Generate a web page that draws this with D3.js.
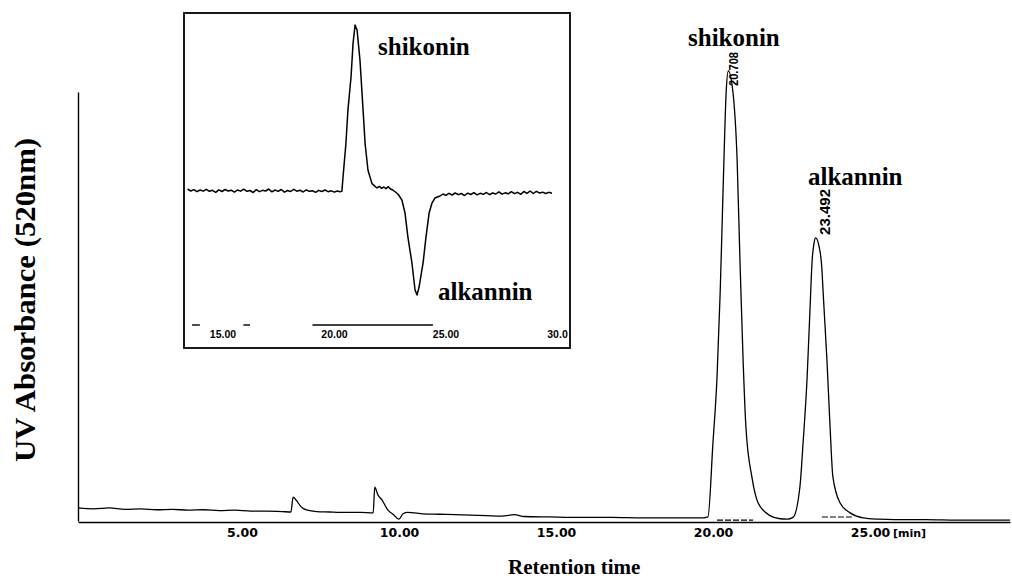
<!DOCTYPE html>
<html><head><meta charset="utf-8">
<script src="https://cdn.jsdelivr.net/npm/d3@7"></script>
<style>body{margin:0;background:#fff}svg{display:block}</style>
</head><body><svg id="c" width="1012" height="580"></svg>
<script>
// ---------- data ----------
const mainTime = [0.0,0.5,1.0,1.5,2.0,2.5,3.0,3.5,4.0,4.5,5.0,5.5,6.0,6.5,6.78,6.85,6.95,7.1,7.3,7.6,8.0,8.5,9.0,9.4,9.45,9.55,9.68,9.87,10.05,10.22,10.35,10.5,11.0,11.5,12.0,12.5,13.0,13.5,13.9,14.2,15.0,16.0,17.0,18.0,19.0,19.9,20.06,20.22,20.35,20.45,20.51,20.57,20.64,20.71,20.86,20.99,21.08,21.18,21.27,21.46,21.66,22.04,22.36,22.58,22.77,22.99,23.09,23.22,23.31,23.38,23.44,23.49,23.6,23.69,23.73,23.85,23.95,24.04,24.27,24.59,25.0,25.5,26.0,27.0,28.0,29.0,29.68];
const mainSignal = [2.9,2.7,2.9,2.6,2.7,2.5,2.6,2.4,2.5,2.3,2.4,2.2,2.2,2.1,2.0,5.3,4.6,3.2,2.4,2.1,2.0,1.9,1.9,1.8,7.5,5.8,4.7,2.4,1.4,0.4,1.6,1.9,1.6,1.5,1.4,1.3,1.2,1.1,1.4,1.0,0.9,0.8,0.8,0.7,0.7,0.7,0.9,17.3,32,50.7,65.3,80.2,95.1,100,95.1,80.2,58,35.8,20.9,9.8,4.0,1.2,0.5,0.4,0.8,7.6,17.3,32,46.9,58,61.8,62.9,61,56,50.7,35.8,20.9,9.8,4.0,1.8,0.7,0.4,0.3,0.3,0.2,0.2,0.2];
const xTicks = [5,10,15,20,25];
const xTickLabels = ["5.00","10.00","15.00","20.00","25.00"];
const peakTimes = [20.708, 23.492];
const peakHeights = [100, 62.9];
const peakLabels = ["20.708", "23.492"];
const peakNames = ["shikonin", "alkannin"];
const integStart = [20.35, 23.69];
const integEnd = [21.5, 24.68];
const integLevel = [0.2, 0.9];

const insetTime = [13.30,13.44,13.58,13.72,13.86,14.00,14.14,14.28,14.42,14.56,14.70,14.84,14.98,15.12,15.26,15.40,15.54,15.68,15.82,15.96,16.10,16.24,16.38,16.52,16.66,16.80,16.94,17.08,17.22,17.36,17.50,17.64,17.78,17.92,18.06,18.20,18.34,18.48,18.62,18.76,18.90,19.04,19.18,19.32,19.46,19.60,19.74,19.88,20.02,20.14,
 20.22,20.27,20.40,20.49,20.63,20.72,20.81,20.90,21.03,21.17,21.26,21.39,21.57,21.79,21.90,22.00,22.10,22.20,22.30,22.40,22.50,22.62,22.75,22.91,23.05,23.18,23.36,23.50,23.59,23.68,23.86,23.99,24.13,24.26,24.39,24.62,
 24.75,24.88,25.02,25.16,25.30,25.44,25.58,25.72,25.86,26.00,26.14,26.28,26.42,26.56,26.70,26.84,26.98,27.12,27.26,27.40,27.54,27.68,27.82,27.96,28.10,28.24,28.38,28.52,28.66,28.80,28.94,29.08,29.22,29.36,29.50,29.64];
const insetSignal = [1.8,0.6,1.4,0.2,1.2,0.5,1.6,0.4,1.0,-0.2,1.3,0.3,1.5,0.6,1.1,-0.1,1.2,0.5,1.7,0.4,0.9,-0.3,1.4,0.2,1.0,0.6,1.8,0.1,1.2,0.4,1.5,-0.1,0.9,0.3,1.6,0.5,1.1,0.0,1.3,0.4,0.8,-0.2,1.0,0.3,1.2,0.2,0.7,-0.1,0.6,0.1,
 0.5,9,29,49,69,89,100,97,79,49,29,13,5,2.4,3.4,2.2,3.0,2.0,3.2,1.8,1.2,0.0,-1.5,-4.8,-12.6,-27,-42.5,-58.7,-61.7,-56.9,-42.5,-27,-12.6,-6.6,-3.6,-2.4,
 -1.2,-2.0,-0.8,-1.8,-0.6,-1.6,-0.9,-2.1,-0.7,-1.5,-0.4,-1.7,-0.8,-1.4,-0.3,-1.6,-0.6,-1.2,0.1,-1.3,-0.5,-1.1,0.2,-1.0,-0.2,-1.4,0.3,-0.8,0.6,-0.9,0.4,-0.6,-0.1,-0.9,-0.2,-0.7];
const insetTicks = [15,20,25,30];
const insetTickLabels = ["15.00","20.00","25.00","30.0"];
const insetAxisFrom = [13.5, 15.8, 18.9];
const insetAxisTo = [13.85, 16.1, 24.3];

// ---------- drawing ----------
const svg = d3.select("#c");
const serif = "'Liberation Serif','Times New Roman',serif";
const wide = "'DejaVu Sans',sans-serif";
const narrow = "'Liberation Sans Narrow','Arial Narrow',sans-serif";

const x = d3.scaleLinear().domain([0, 29.68]).range([78, 1010]);
const y = d3.scaleLinear().domain([0, 100]).range([521, 71]);
const yAxisScale = d3.scaleLinear().domain([0, 95.3]).range([521, 92]);

// y axis line
svg.append("g").attr("transform","translate(78,0)")
  .call(d3.axisLeft(yAxisScale).tickValues([]).tickSizeOuter(0))
  .select(".domain").attr("stroke","#000").attr("stroke-width",1.4);

// x axis
const xa = svg.append("g").attr("transform","translate(0,522)")
  .call(d3.axisBottom(x).tickValues(xTicks).tickFormat((d,i)=>xTickLabels[i]).tickSize(0).tickPadding(6).tickSizeOuter(0));
xa.select(".domain").attr("stroke","#000").attr("stroke-width",1.4);
xa.selectAll("text").attr("dx",7).attr("font-family",wide).attr("font-weight","bold").attr("font-size","12.5px").attr("fill","#000");
svg.append("text").attr("x",893).attr("y",537).attr("font-family",wide).attr("font-weight","bold")
  .attr("font-size","11px").text("[min]");

// integration baselines
integStart.forEach((s,i)=>{
  svg.append("line").attr("x1",x(s)).attr("x2",x(integEnd[i])).attr("y1",y(integLevel[i])).attr("y2",y(integLevel[i]))
    .attr("stroke","#000").attr("stroke-width",1.1).attr("stroke-dasharray","6,2");
});

// main trace
const mainData = mainTime.map((t,i)=>[t, mainSignal[i]]);
svg.append("path").datum(mainData)
  .attr("d", d3.line().x(d=>x(d[0])).y(d=>y(d[1])).curve(d3.curveMonotoneX))
  .attr("fill","none").attr("stroke","#000").attr("stroke-width",1.3);

// retention time labels
const rtOffX = [10, 14];
const rtOffY = [15, -3];
const rtSize = [12, 14];
const rtLen = [34, 46];
peakTimes.forEach((t,i)=>{
  const px = x(t)+rtOffX[i], py = y(peakHeights[i])+rtOffY[i];
  svg.append("text").attr("transform",`translate(${px},${py}) rotate(-90)`)
    .attr("font-family",narrow).attr("font-weight","bold").attr("font-size",rtSize[i]+"px")
    .attr("textLength",rtLen[i]).attr("lengthAdjust","spacingAndGlyphs").text(peakLabels[i]);
});

// compound names on main chart
svg.append("text").attr("x",688).attr("y",46).attr("font-family",serif).attr("font-weight","bold")
  .attr("font-size","25px").text(peakNames[0]);
svg.append("text").attr("x",808).attr("y",185).attr("font-family",serif).attr("font-weight","bold")
  .attr("font-size","25px").text(peakNames[1]);

// axis titles
svg.append("text").attr("x",508).attr("y",574).attr("font-family",serif).attr("font-weight","bold")
  .attr("font-size","21px").text("Retention time");
svg.append("text").attr("transform","translate(35,300) rotate(-90)").attr("text-anchor","middle")
  .attr("font-family",serif).attr("font-weight","bold").attr("font-size","30px")
  .attr("textLength",324).attr("lengthAdjust","spacingAndGlyphs").text("UV Absorbance (520nm)");

// ---------- inset ----------
svg.append("rect").attr("x",184).attr("y",13).attr("width",386).attr("height",335)
  .attr("fill","#fff").attr("stroke","#000").attr("stroke-width",1.8);
const ix = d3.scaleLinear().domain([20, 25]).range([337, 448.5]);
const iy = d3.scaleLinear().domain([0, 100]).range([192, 25]);
insetAxisFrom.forEach((s,i)=>{
  svg.append("line").attr("x1",ix(s)).attr("x2",ix(insetAxisTo[i])).attr("y1",325).attr("y2",325)
    .attr("stroke","#000").attr("stroke-width",1.4);
});
const ia = svg.append("g").attr("transform","translate(0,325)")
  .call(d3.axisBottom(ix).tickValues(insetTicks).tickFormat((d,i)=>insetTickLabels[i]).tickSize(0).tickPadding(6));
ia.select(".domain").remove();
ia.selectAll("text").attr("dx",-3).attr("font-family",narrow).attr("font-weight","bold").attr("font-size","10.5px").attr("fill","#000");

const insetData = insetTime.map((t,i)=>[t, insetSignal[i]]);
svg.append("path").datum(insetData)
  .attr("d", d3.line().x(d=>ix(d[0])).y(d=>iy(d[1])))
  .attr("fill","none").attr("stroke","#000").attr("stroke-width",1.5).attr("stroke-linejoin","round");

svg.append("text").attr("x",378).attr("y",55).attr("font-family",serif).attr("font-weight","bold")
  .attr("font-size","25px").text(peakNames[0]);
svg.append("text").attr("x",438).attr("y",300).attr("font-family",serif).attr("font-weight","bold")
  .attr("font-size","25px").text(peakNames[1]);
</script></body></html>
